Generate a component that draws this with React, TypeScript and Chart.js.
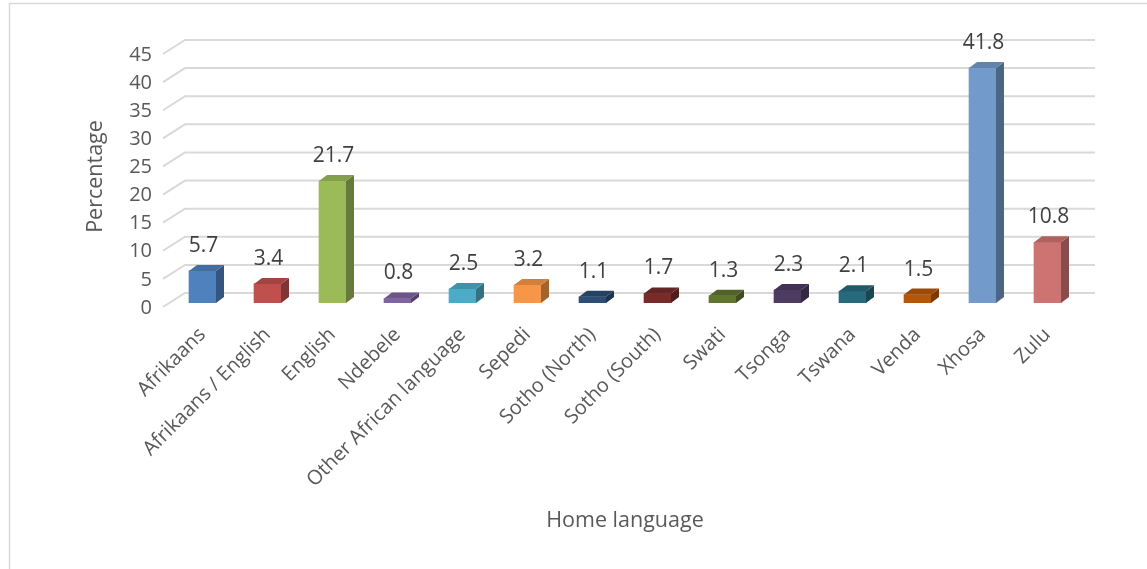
import React, { useEffect, useRef } from "react";
import { Chart, registerables } from "chart.js";

Chart.register(...registerables);

const categories = [
  "Afrikaans",
  "Afrikaans / English",
  "English",
  "Ndebele",
  "Other African language",
  "Sepedi",
  "Sotho (North)",
  "Sotho (South)",
  "Swati",
  "Tsonga",
  "Tswana",
  "Venda",
  "Xhosa",
  "Zulu",
];

const percentages = [5.7, 3.4, 21.7, 0.8, 2.5, 3.2, 1.1, 1.7, 1.3, 2.3, 2.1, 1.5, 41.8, 10.8];

const yTickValues = [0, 5, 10, 15, 20, 25, 30, 35, 40, 45];

const barColors = [
  "#4F81BD",
  "#C0504D",
  "#9BBB59",
  "#8064A2",
  "#4BACC6",
  "#F79646",
  "#2C4D75",
  "#772C2A",
  "#5F7530",
  "#4D3B62",
  "#276A7C",
  "#B65708",
  "#729ACA",
  "#CD7371",
];

const FONT = '"Open Sans", "DejaVu Sans", sans-serif';
const DX = 8;
const DY = 6;

function shade(hex: string, f: number): string {
  const n = parseInt(hex.slice(1), 16);
  const r = Math.round(((n >> 16) & 255) * f);
  const g = Math.round(((n >> 8) & 255) * f);
  const b = Math.round((n & 255) * f);
  return `rgb(${r},${g},${b})`;
}

const excel3d = {
  id: "excel3d",
  beforeDraw(chart: any) {
    const { ctx, width, height } = chart;
    ctx.save();
    ctx.fillStyle = "#ffffff";
    ctx.fillRect(0, 0, width, height);
    ctx.strokeStyle = "#d9d9d9";
    ctx.lineWidth = 1.5;
    ctx.beginPath();
    ctx.moveTo(9.5, height + 5);
    ctx.lineTo(9.5, 3.5);
    ctx.lineTo(width + 5, 3.5);
    ctx.stroke();
    ctx.restore();
  },
  beforeDatasetsDraw(chart: any) {
    const { ctx, chartArea } = chart;
    const y = chart.scales.y;
    ctx.save();
    ctx.strokeStyle = "#d9d9d9";
    ctx.lineWidth = 2;
    y.ticks.forEach((t: any) => {
      const py = y.getPixelForValue(t.value);
      ctx.beginPath();
      ctx.moveTo(chartArea.left - 7, py + 4);
      ctx.lineTo(chartArea.left + 15, py - 10);
      ctx.lineTo(chartArea.right + 15, py - 10);
      ctx.stroke();
    });
    ctx.restore();
  },
  afterDatasetsDraw(chart: any) {
    const { ctx } = chart;
    const meta = chart.getDatasetMeta(0);
    const data = chart.data.datasets[0].data;
    ctx.save();
    meta.data.forEach((bar: any, i: number) => {
      const { x, y, base, width } = bar.getProps(["x", "y", "base", "width"], true);
      const l = x - width / 2;
      const r = x + width / 2;
      const col = barColors[i];
      ctx.fillStyle = shade(col, 0.66);
      ctx.beginPath();
      ctx.moveTo(r, y);
      ctx.lineTo(r + DX, y - DY);
      ctx.lineTo(r + DX, base - DY);
      ctx.lineTo(r, base);
      ctx.closePath();
      ctx.fill();
      ctx.fillStyle = shade(col, 0.85);
      ctx.beginPath();
      ctx.moveTo(l, y);
      ctx.lineTo(l + DX, y - DY);
      ctx.lineTo(r + DX, y - DY);
      ctx.lineTo(r, y);
      ctx.closePath();
      ctx.fill();
      ctx.fillStyle = "#404040";
      ctx.font = `21px ${FONT}`;
      ctx.textAlign = "center";
      ctx.textBaseline = "middle";
      ctx.fillText(String(data[i]), x + 1, y - 25);
    });
    ctx.restore();
  },
};

export default function App() {
  const canvasRef = useRef<HTMLCanvasElement | null>(null);

  useEffect(() => {
    if (!canvasRef.current) return;
    const chart = new Chart(canvasRef.current, {
      type: "bar",
      data: {
        labels: categories,
        datasets: [
          {
            label: "Percentage",
            data: percentages,
            backgroundColor: barColors,
            borderWidth: 0,
            barThickness: 27,
          },
        ],
      },
      options: {
        responsive: false,
        animation: false,
        layout: { padding: { top: 50, right: 67, bottom: 0, left: 0 } },
        plugins: {
          legend: { display: false },
          tooltip: { enabled: false },
        },
        scales: {
          x: {
            grid: { display: false, drawTicks: false },
            border: { display: false },
            ticks: {
              autoSkip: false,
              maxRotation: 45,
              minRotation: 45,
              padding: 20,
              color: "#595959",
              font: { family: FONT, size: 20 },
            },
            title: {
              display: true,
              text: "Home language",
              color: "#595959",
              font: { family: FONT, size: 21.5 },
              padding: { top: 4, bottom: 35 },
            },
            afterFit(scale: any) {
              scale.height = 266;
            },
          },
          y: {
            min: 0,
            max: 45,
            grid: { display: false, drawTicks: false },
            border: { display: false },
            afterBuildTicks(scale: any) {
              scale.ticks = yTickValues.map((v) => ({ value: v }));
            },
            ticks: {
              stepSize: 5,
              padding: 18,
              labelOffset: 5,
              color: "#595959",
              font: { family: FONT, size: 20 },
            },
            title: {
              display: true,
              text: "Percentage",
              color: "#595959",
              font: { family: FONT, size: 21.5 },
              padding: { top: 83, bottom: 4 },
            },
            afterFit(scale: any) {
              scale.width = 170;
            },
          },
        },
      },
      plugins: [excel3d],
    });
    return () => chart.destroy();
  }, []);

  return (
    <div style={{ position: "fixed", left: 0, top: 0, width: 1147, height: 569, background: "#fff" }}>
      <canvas ref={canvasRef} width={1147} height={569} style={{ display: "block" }} />
    </div>
  );
}
